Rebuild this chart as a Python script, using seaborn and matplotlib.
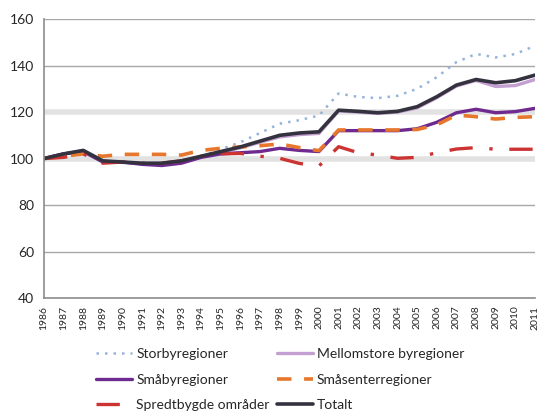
import matplotlib
matplotlib.use("Agg")
import matplotlib.pyplot as plt
import seaborn as sns
import pandas as pd

years = list(range(1986, 2012))

storby = [100, 102, 103.5, 99, 98.5, 98, 98, 99, 101, 104, 107, 111, 115, 116.5, 118.5,
          128, 126.5, 126, 127, 130, 135, 141.5, 145, 143.5, 145, 148.5]
mellomstore = [100, 102, 103.3, 98.8, 98.3, 97.8, 97.8, 98.8, 100.8, 102.7, 104.6, 107, 109.3, 110.3, 110.8,
               120.5, 120, 119.4, 120, 121.8, 126.2, 131.2, 133.6, 131, 131.4, 134]
smaby = [100, 102, 103, 98.5, 98.5, 97.5, 97, 98, 100.5, 102, 102.5, 103, 104.4, 103.5, 103,
         112, 112, 112, 112, 112.8, 115.6, 119.7, 121.2, 119.7, 120.2, 121.6]
smasenter = [100, 101, 102, 101, 101.8, 101.8, 101.8, 101.5, 103.5, 104.4, 105, 105.5, 106.3, 104.7, 103.4,
             112.3, 112.3, 112.3, 112.3, 112.5, 114.5, 118.7, 118, 117, 117.7, 118]
spredt = [100, 100.5, 102, 98, 98.5, 98, 98, 99, 101, 102, 102.2, 101, 100.1, 97.9, 96.8,
          105.1, 102.5, 101.5, 100.1, 100.5, 102.5, 104.1, 104.7, 104, 104, 104]
totalt = [100, 102, 103.5, 99, 98.5, 98, 98, 99, 101, 103, 105, 107.5, 110, 111, 111.5,
          120.8, 120.3, 119.7, 120.3, 122.3, 126.6, 131.6, 134, 132.6, 133.5, 135.9]

labels = ["Storbyregioner", "Mellomstore byregioner", "Småbyregioner",
          "Småsenterregioner", "Spredtbygde områder", "Totalt"]
series = [storby, mellomstore, smaby, smasenter, spredt, totalt]

yticks = [40, 60, 80, 100, 120, 140, 160]

styles = {
    "Storbyregioner": dict(color="#94B4DA", lw=1.8, linestyle=(0, (1, 2.4))),
    "Mellomstore byregioner": dict(color="#C4A0D2", lw=2.4, linestyle="-"),
    "Småbyregioner": dict(color="#6E2A8E", lw=2.4, linestyle="-"),
    "Småsenterregioner": dict(color="#E8772E", lw=2.6, linestyle=(0, (4, 3.5))),
    "Spredtbygde områder": dict(color="#CC3333", lw=2.4, linestyle=(0, (7, 5, 1, 5))),
    "Totalt": dict(color="#35323F", lw=2.6, linestyle="-"),
}

sns.set_style("white")
plt.rcParams["font.family"] = ["Lato", "DejaVu Sans"]

fig = plt.figure(figsize=(5.39, 4.12), dpi=100)
ax = fig.add_axes([0.0816, 0.2767, 0.911, 0.677])

# horizontal reference lines
for v in yticks:
    if v in (100, 120):
        ax.axhline(v, color="#E2E2E2", lw=4.0, zorder=0)
    else:
        ax.axhline(v, color="#A8A8A8", lw=1.0, zorder=0)

handles = {}
for name, vals in zip(labels, series):
    df = pd.DataFrame({"år": years, "indeks": vals})
    sns.lineplot(data=df, x="år", y="indeks", ax=ax, label=name, **styles[name])
    handles[name] = ax.get_lines()[-1]
ax.get_legend().remove()

ax.set_xlim(1986, 2011)
ax.set_ylim(40, 160)
ax.set_xticks(years)
ax.set_xticklabels([str(y) for y in years], rotation=90, fontsize=7.5)
ax.set_yticks(yticks)
ax.set_yticklabels([str(v) for v in yticks], fontsize=10)
ax.set_xlabel("")
ax.set_ylabel("")
ax.tick_params(axis="x", direction="inout", length=7, width=1, color="#8C8C8C", pad=2)
ax.tick_params(axis="y", direction="out", length=4, width=1, color="#8C8C8C", pad=3)

for side in ("top", "right"):
    ax.spines[side].set_visible(False)
for side in ("left", "bottom"):
    ax.spines[side].set_color("#8C8C8C")
    ax.spines[side].set_linewidth(1.2)

order = ["Storbyregioner", "Småbyregioner", "Spredtbygde områder",
         "Mellomstore byregioner", "Småsenterregioner", "Totalt"]
fig.legend([handles[n] for n in order], order, ncol=2, frameon=False,
           loc="upper left", bbox_to_anchor=(0.168, 0.168), fontsize=10,
           handlelength=2.6, handletextpad=0.3, labelspacing=0.95,
           columnspacing=0.5, borderaxespad=0)

fig.savefig("out.png", dpi=100)
